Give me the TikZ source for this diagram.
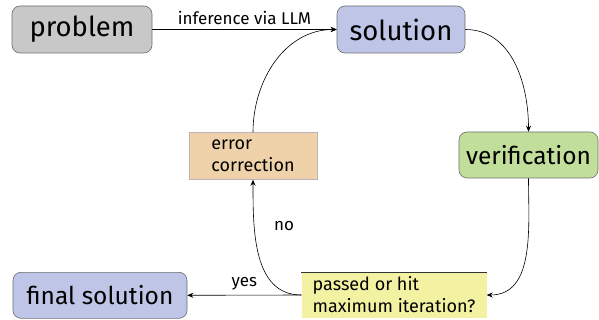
\documentclass[tikz,border=0pt]{standalone}
\usepackage{fontspec}
\setmainfont{Fira Sans}
\usetikzlibrary{arrows.meta}
\definecolor{cgray}{HTML}{C8C8C8}
\definecolor{cblue}{HTML}{BFC5E6}
\definecolor{cgreen}{HTML}{C2DE9B}
\definecolor{corange}{HTML}{EFD2A9}
\definecolor{cyellow}{HTML}{F3F1A2}
\definecolor{cborder}{HTML}{6E6E6E}
\tikzset{
  bigbox/.style={draw=cborder, line width=0.6pt, rounded corners=8pt, inner sep=0pt, anchor=center},
  huge/.style={font=\fontsize{27.5}{32}\selectfont},
  large/.style={font=\fontsize{24.5}{28}\selectfont},
  smallbox/.style={font=\fontsize{18}{22}\selectfont, align=left, inner sep=0pt},
  conn/.style={-{Stealth[length=6pt,width=5pt]}, line width=0.6pt},
  lbl/.style={font=\fontsize{17}{19}\selectfont}
}
\begin{document}
\begin{tikzpicture}[x=1pt,y=1pt]
\useasboundingbox (0,0) rectangle (599,-320);
\node[bigbox, huge, fill=cgray, minimum width=140, minimum height=47] (problem) at (82,-29.5) {problem};
\node[bigbox, huge, fill=cblue, minimum width=128, minimum height=47] (solution) at (401,-29.5) {solution};
\node[bigbox, large, fill=cgreen, minimum width=139, minimum height=46] (verif) at (528.5,-155) {verification};
\node[bigbox, large, fill=cblue, minimum width=174, minimum height=46] (final) at (100,-295.3) {final solution};
\node[smallbox, draw=cborder!50, line width=0.5pt, fill=corange, minimum width=128, minimum height=47] (err) at (253,-156) {error\\correction};
\node[smallbox, fill=cyellow, minimum width=185, minimum height=46] (pass) at (394,-295) {passed or hit\\maximum iteration?};
\draw[line width=0.6pt, draw=black!80] (pass.north west) -- (pass.north east);
\draw[conn] (problem.east) -- node[lbl, above, yshift=1pt] {inference via LLM} (solution.west);
\draw[conn] (solution.east) to[out=0, in=90] (verif.north);
\draw[conn] (verif.south) to[out=-90, in=0] (pass.east);
\draw[conn] (pass.west) -- node[lbl, above, yshift=1pt] {yes} (final.east);
\draw[conn] (pass.west) to[out=180, in=-90] (err.south);
\node[lbl] (nolbl) at (284,-226) {no};
\draw[conn] (err.north) to[out=90, in=180] (solution.west);
\end{tikzpicture}
\end{document}
